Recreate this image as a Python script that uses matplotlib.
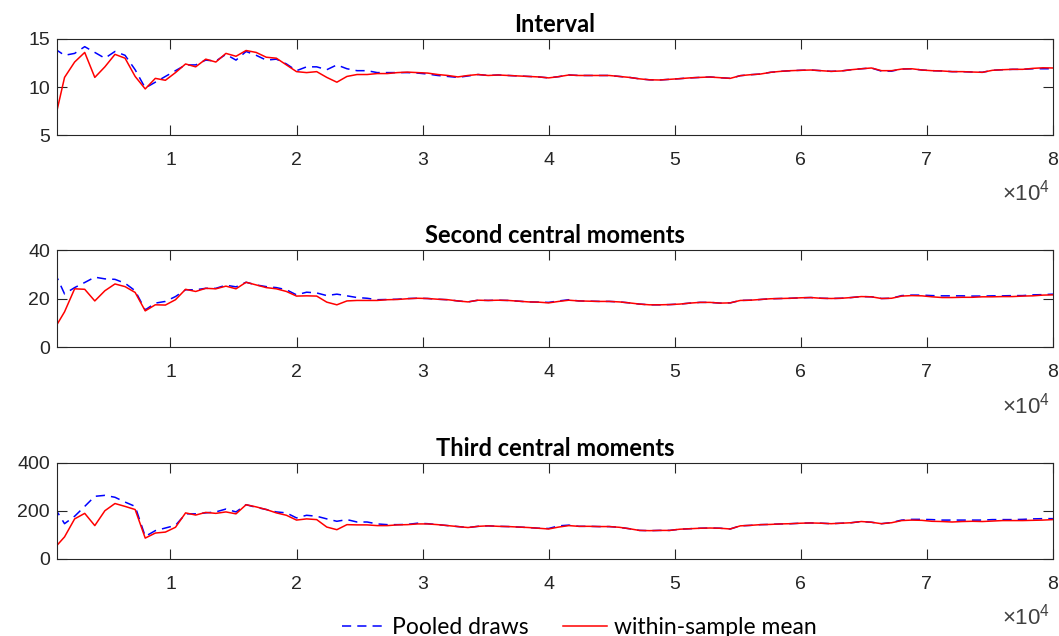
import numpy as np
import matplotlib.pyplot as plt
from matplotlib.lines import Line2D

plt.rcParams['font.family'] = ['Liberation Sans', 'DejaVu Sans']
plt.rcParams['mathtext.fontset'] = 'custom'
plt.rcParams['mathtext.rm'] = 'Liberation Sans'

# draws used so far (one value every 800 draws)
n_draws = np.arange(800, 80001, 800)

interval_pooled = [14.0, 13.3, 13.5, 14.2, 13.6, 13.0, 13.7, 13.3, 11.8, 9.9,
                   10.5, 11.1, 11.7, 12.3, 12.3, 12.8, 12.7, 13.4, 12.8, 13.7,
                   13.3, 12.8, 12.9, 12.4, 11.7, 12.1, 12.1, 11.8, 12.3, 11.9,
                   11.7, 11.7, 11.5, 11.5, 11.5, 11.5, 11.45, 11.35, 11.2, 11.1,
                   11.0, 11.15, 11.3, 11.2, 11.25, 11.2, 11.15, 11.1, 11.05, 10.95,
                   11.08, 11.25, 11.2, 11.2, 11.2, 11.2, 11.1, 11.0, 10.85, 10.75,
                   10.73, 10.8, 10.87, 10.95, 11.0, 11.04, 10.97, 10.9, 11.18, 11.28,
                   11.35, 11.53, 11.63, 11.7, 11.74, 11.77, 11.7, 11.63, 11.67, 11.8,
                   11.9, 11.98, 11.65, 11.65, 11.87, 11.9, 11.77, 11.7, 11.67, 11.6,
                   11.6, 11.56, 11.53, 11.74, 11.8, 11.84, 11.84, 11.9, 11.9, 11.9]
interval_within = [6.4, 11.0, 12.6, 13.6, 11.0, 12.1, 13.4, 13.0, 11.1, 9.8,
                   10.9, 10.7, 11.5, 12.4, 12.1, 12.9, 12.6, 13.5, 13.2, 13.8,
                   13.6, 13.1, 13.0, 12.3, 11.6, 11.5, 11.6, 11.0, 10.5, 11.1,
                   11.3, 11.3, 11.4, 11.4, 11.5, 11.55, 11.5, 11.45, 11.3, 11.2,
                   11.05, 11.2, 11.3, 11.2, 11.25, 11.2, 11.15, 11.1, 11.05, 10.95,
                   11.08, 11.25, 11.2, 11.2, 11.2, 11.2, 11.1, 11.0, 10.85, 10.75,
                   10.73, 10.8, 10.87, 10.95, 11.0, 11.04, 10.97, 10.9, 11.18, 11.28,
                   11.35, 11.53, 11.63, 11.7, 11.74, 11.77, 11.7, 11.63, 11.67, 11.8,
                   11.9, 11.98, 11.7, 11.7, 11.87, 11.9, 11.77, 11.7, 11.67, 11.6,
                   11.6, 11.56, 11.53, 11.74, 11.8, 11.84, 11.84, 11.94, 12.0, 11.98]

second_pooled = [31.0, 21.9, 24.5, 26.6, 28.8, 28.1, 27.9, 26.3, 23.2, 15.3,
                 18.1, 18.8, 20.8, 23.6, 23.6, 24.2, 24.2, 25.5, 24.8, 26.7,
                 25.6, 24.9, 24.5, 23.6, 21.5, 22.6, 22.3, 21.2, 21.8, 21.1,
                 20.4, 20.1, 19.5, 19.6, 19.7, 20.0, 20.1, 20.0, 19.7, 19.5,
                 19.0, 18.6, 19.3, 19.2, 19.3, 19.2, 18.9, 18.6, 18.5, 18.4,
                 19.0, 19.5, 19.0, 18.9, 18.8, 18.8, 18.6, 18.2, 17.7, 17.4,
                 17.4, 17.5, 17.7, 18.1, 18.4, 18.4, 18.1, 18.2, 19.2, 19.3,
                 19.6, 19.9, 20.0, 20.1, 20.3, 20.4, 20.1, 20.0, 20.1, 20.4,
                 20.8, 20.7, 20.0, 20.1, 21.2, 21.4, 21.4, 21.2, 21.1, 21.1,
                 21.1, 21.0, 21.0, 21.1, 21.1, 21.2, 21.2, 21.5, 21.6, 21.8]
second_within = [7.5, 14.5, 24.0, 23.8, 19.0, 23.2, 26.0, 24.9, 22.5, 14.9,
                 17.4, 17.3, 19.5, 23.8, 22.9, 24.2, 24.0, 25.1, 24.0, 26.7,
                 25.6, 24.5, 24.0, 22.9, 21.0, 21.1, 21.0, 18.5, 17.4, 19.0,
                 19.2, 19.2, 19.2, 19.5, 19.6, 19.9, 20.1, 20.0, 19.7, 19.5,
                 19.0, 18.6, 19.3, 19.2, 19.3, 19.2, 18.9, 18.6, 18.5, 18.2,
                 18.8, 19.3, 19.0, 18.9, 18.8, 18.8, 18.6, 18.2, 17.7, 17.4,
                 17.4, 17.5, 17.7, 18.1, 18.4, 18.4, 18.1, 18.2, 19.2, 19.3,
                 19.6, 19.9, 20.0, 20.1, 20.3, 20.4, 20.1, 20.0, 20.1, 20.4,
                 20.8, 20.7, 20.0, 20.1, 21.0, 21.2, 21.1, 20.7, 20.4, 20.4,
                 20.5, 20.5, 20.7, 20.7, 20.8, 20.8, 21.0, 21.1, 21.4, 21.5]

third_pooled = [215, 147, 178, 219, 261, 265, 257, 237, 219, 94,
                118, 129, 140, 188, 188, 192, 196, 208, 196, 226,
                215, 206, 196, 192, 171, 182, 178, 167, 157, 164,
                154, 154, 146, 143, 143, 144, 149, 147, 143, 139,
                135, 131, 136, 138, 136, 135, 133, 131, 128, 127,
                138, 141, 136, 136, 135, 135, 132, 126, 119, 118,
                119, 119, 124, 126, 128, 129, 128, 125, 138, 140,
                143, 144, 146, 147, 149, 150, 149, 147, 149, 151,
                156, 153, 147, 152, 162, 165, 165, 164, 162, 162,
                162, 162, 162, 164, 164, 164, 165, 167, 168, 168]
third_within = [45, 92, 167, 190, 139, 201, 231, 219, 206, 87,
                108, 112, 132, 192, 183, 194, 190, 196, 188, 226,
                217, 206, 192, 182, 162, 167, 164, 133, 122, 143,
                142, 142, 139, 139, 142, 143, 146, 146, 143, 139,
                135, 131, 136, 138, 136, 135, 133, 131, 128, 125,
                133, 139, 136, 136, 135, 135, 132, 126, 119, 118,
                119, 119, 124, 126, 128, 129, 128, 125, 138, 140,
                143, 144, 146, 147, 149, 150, 149, 147, 149, 151,
                156, 153, 147, 151, 160, 162, 161, 157, 156, 154,
                156, 157, 156, 158, 160, 160, 160, 161, 162, 164]

titles = ['Interval', 'Second central moments', 'Third central moments']
yticks = [[5, 10, 15], [0, 20, 40], [0, 200, 400]]
xticks = [10000, 20000, 30000, 40000, 50000, 60000, 70000, 80000]
xticklabels = ['1', '2', '3', '4', '5', '6', '7', '8']
series = [(interval_pooled, interval_within),
          (second_pooled, second_within),
          (third_pooled, third_within)]

fig = plt.figure(figsize=(10.59, 6.36), dpi=100)
boxes = [[0.0538, 0.7877, 0.9405, 0.151],
         [0.0538, 0.4544, 0.9405, 0.1525],
         [0.0538, 0.1211, 0.9405, 0.151]]
axc = '#262626'

for i in range(3):
    ax = fig.add_axes(boxes[i])
    pooled, within = series[i]
    ax.plot(n_draws, pooled, color='#0000ff', lw=1.1, linestyle=(0, (6, 4)))
    ax.plot(n_draws, within, color='#ff0000', lw=1.1)
    ax.set_xlim(1000, 80000)
    ax.set_ylim(yticks[i][0], yticks[i][-1])
    ax.set_yticks(yticks[i])
    ax.set_xticks(xticks)
    ax.set_xticklabels(xticklabels)
    ax.tick_params(direction='in', length=7, width=0.8, colors=axc,
                   labelsize=14, top=True, right=True)
    ax.tick_params(axis='x', pad=12)
    ax.tick_params(axis='y', pad=5)
    for s in ax.spines.values():
        s.set_color(axc)
        s.set_linewidth(0.8)
    ax.set_title(titles[i], family=['Lato', 'DejaVu Sans'], fontweight='bold',
                 fontsize=17, pad=5)
    # exponent of the x axis, drawn under the last tick label
    ax.text(0.997, -0.6, r'$\times10^{4}$', transform=ax.transAxes,
            ha='right', va='center', fontsize=16, color='#404040')

handles = [Line2D([], [], color='#0000ff', lw=1.1, linestyle=(0, (6, 4))),
           Line2D([], [], color='#ff0000', lw=1.1)]
fig.legend(handles, ['Pooled draws', 'within-sample mean'], loc='center',
           bbox_to_anchor=(0.547, 0.014), ncol=2, frameon=False,
           prop={'family': ['Lato', 'DejaVu Sans'], 'size': 16.5},
           handlelength=1.9, handletextpad=0.3, columnspacing=1.5)

plt.savefig('out.png', dpi=100)
